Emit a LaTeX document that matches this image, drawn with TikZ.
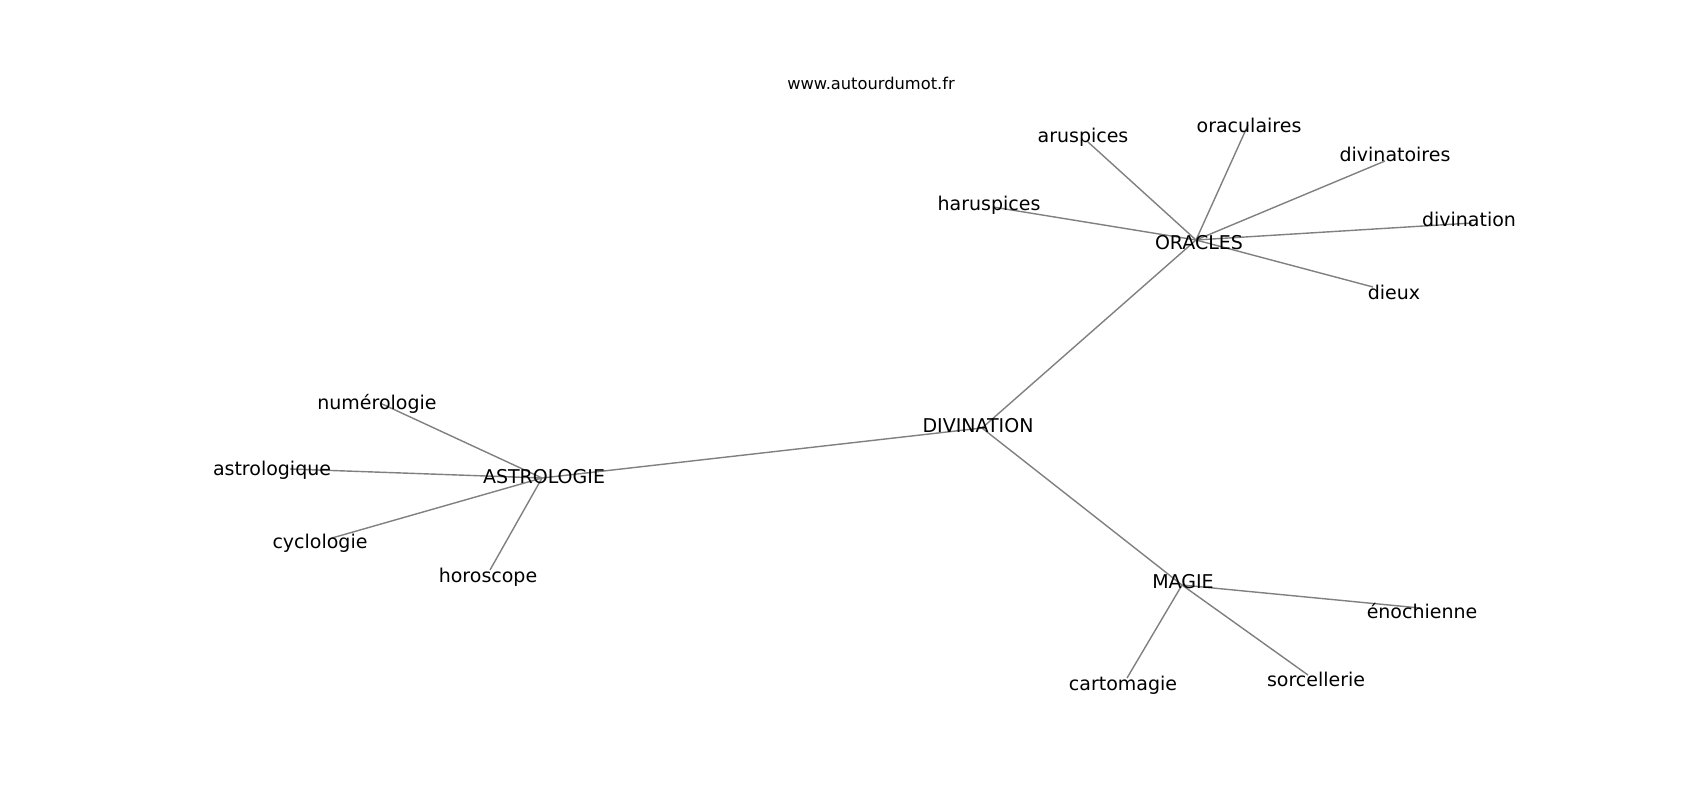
\documentclass[tikz,border=0pt]{standalone}
\usepackage{fontspec}
\setmainfont{DejaVu Sans}
\usepackage{tikz}

\tikzset{
  term/.style={font=\fontsize{5.4}{6}\selectfont, inner sep=0pt, text height=0.73em, text depth=0pt},
  link/.style={draw=gray, line width=0.4pt}
}

\begin{document}
\begin{tikzpicture}[x=0.01cm, y=-0.01cm]
      \useasboundingbox (0,0) rectangle (1700,800);
      % hubs where the links meet
      \coordinate (p-div) at (982,428);
      \coordinate (p-ora) at (1196,240);
      \coordinate (p-ast) at (542,478);
      \coordinate (p-mag) at (1182,585);
      \coordinate (p-arus) at (1088,142);
      \coordinate (p-orac) at (1248,125);
      \coordinate (p-dvt) at (1385,161);
      \coordinate (p-harus) at (993,207);
      \coordinate (p-dvn) at (1472,223);
      \coordinate (p-dieux) at (1373,287);
      \coordinate (p-num) at (380,403);
      \coordinate (p-astq) at (290,469);
      \coordinate (p-cyc) at (332,538);
      \coordinate (p-hor) at (490,570);
      \coordinate (p-eno) at (1420,608);
      \coordinate (p-carto) at (1127,678);
      \coordinate (p-sorc) at (1308,675);
      % links
      \draw[link] (p-div) -- (p-ora);
      \draw[link] (p-div) -- (p-ast);
      \draw[link] (p-div) -- (p-mag);
      \draw[link] (p-ora) -- (p-arus);
      \draw[link] (p-ora) -- (p-orac);
      \draw[link] (p-ora) -- (p-dvt);
      \draw[link] (p-ora) -- (p-harus);
      \draw[link] (p-ora) -- (p-dvn);
      \draw[link] (p-ora) -- (p-dieux);
      \draw[link] (p-ast) -- (p-num);
      \draw[link] (p-ast) -- (p-astq);
      \draw[link] (p-ast) -- (p-cyc);
      \draw[link] (p-ast) -- (p-hor);
      \draw[link] (p-mag) -- (p-eno);
      \draw[link] (p-mag) -- (p-carto);
      \draw[link] (p-mag) -- (p-sorc);
      % labels
      \node[term, font=\fontsize{4.63}{5}\selectfont] (site) at (871,77) {www.autourdumot.fr};
      \node[term] (div) at (978,420) {DIVINATION};
      \node[term] (ora) at (1199,237) {ORACLES};
      \node[term] (ast) at (544,471) {ASTROLOGIE};
      \node[term] (mag) at (1183,576) {MAGIE};
      \node[term] (arus) at (1083,130) {aruspices};
      \node[term] (orac) at (1249,120) {oraculaires};
      \node[term] (dvt) at (1395,149) {divinatoires};
      \node[term] (harus) at (989,198) {haruspices};
      \node[term] (dvn) at (1469,214) {divination};
      \node[term] (dieux) at (1394,287) {dieux};
      \node[term] (num) at (377,397) {numérologie};
      \node[term] (astq) at (272,463) {astrologique};
      \node[term] (cyc) at (320,536) {cyclologie};
      \node[term] (hor) at (488,570) {horoscope};
      \node[term] (eno) at (1422,606) {énochienne};
      \node[term] (carto) at (1123,678) {cartomagie};
      \node[term] (sorc) at (1316,674) {sorcellerie};
    \end{tikzpicture}
\end{document}
